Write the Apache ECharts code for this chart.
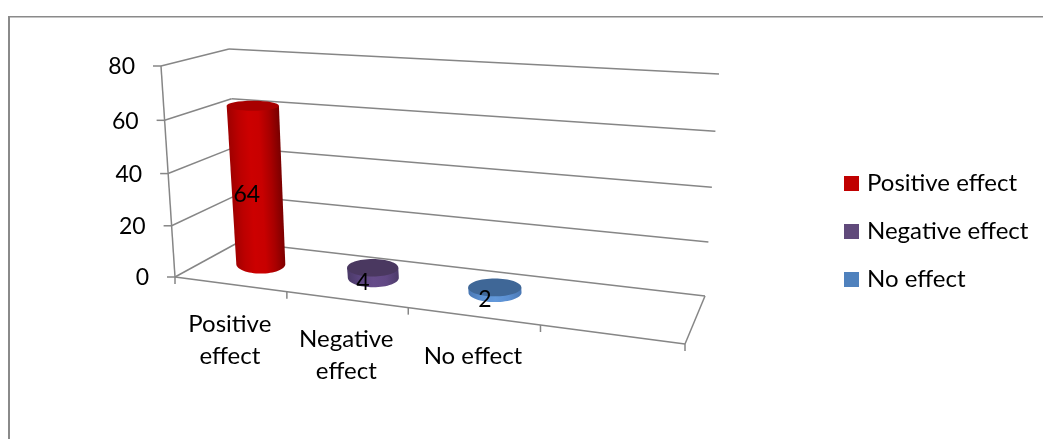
<!DOCTYPE html>
<html>
<head>
<meta charset="utf-8">
<style>
  html, body { margin: 0; padding: 0; background: #fff; }
  #chart { width: 1043px; height: 439px; }
</style>
</head>
<body>
<div id="chart"></div>
<script src="https://cdn.jsdelivr.net/npm/echarts@6/dist/echarts.min.js"></script>
<script>
// data
const categories = ["Positive effect", "Negative effect", "No effect", ""];
const xTickLabels = ["Positive\neffect", "Negative\neffect", "No effect", ""];
const yTicks = [0, 20, 40, 60, 80];
const seriesNames = ["Positive effect", "Negative effect", "No effect"];
const seriesValues = [64, 4, 2];
const seriesColors = ["#C00000", "#604A7B", "#4F81BD"];

const FONT = "Lato";
const LINE = "#868686";
const BAR_DEPTH = 0.53;
const AXIS_LEAN = 0.6; // cylinders lean less than the box edges
const AXIS_RISE = 0.975;

// corners of the 3d box as they land on screen
const floorQuad = [[175, 277], [685, 344], [705, 296], [239, 242]];
const roofQuad = [[161, 66], [697, 102], [719, 74], [229, 49]];

// unit square to quad, projective so the slots shrink towards the back
function quadMap(q) {
  const [[x0, y0], [x1, y1], [x2, y2], [x3, y3]] = q;
  const dx1 = x1 - x2, dx2 = x3 - x2, sx = x0 - x1 + x2 - x3;
  const dy1 = y1 - y2, dy2 = y3 - y2, sy = y0 - y1 + y2 - y3;
  const den = dx1 * dy2 - dx2 * dy1;
  const g = (sx * dy2 - dx2 * sy) / den;
  const h = (dx1 * sy - sx * dy1) / den;
  const a = x1 - x0 + g * x1, b = x3 - x0 + h * x3;
  const d = y1 - y0 + g * y1, e = y3 - y0 + h * y3;
  return (u, w) => {
    const k = g * u + h * w + 1;
    return [(a * u + b * w + x0) / k, (d * u + e * w + y0) / k];
  };
}
const floorAt = quadMap(floorQuad);
const roofAt = quadMap(roofQuad);

// u across the categories, v up the value axis, w front to back
function project(u, v, w) {
  const p = floorAt(u, w), q = roofAt(u, w);
  const t = v / (1 + 0.04 * (1 - v)); // levels open up slightly towards the top
  return [p[0] + (q[0] - p[0]) * t, p[1] + (q[1] - p[1]) * t];
}

// axis scale to unit coordinates
function toUnit(params, api, cat, val) {
  const c = params.coordSys;
  const pt = api.coord([cat, val]);
  return {
    u: (pt[0] - c.x) / c.width,
    v: (c.y + c.height - pt[1]) / c.height,
    band: api.size([1, 0])[0] / c.width,
  };
}

function seg(a, b) {
  return {
    type: "line",
    shape: { x1: a[0], y1: a[1], x2: b[0], y2: b[1] },
    style: { stroke: LINE, lineWidth: 1.5 },
  };
}

function label(text, x, y, align, verticalAlign, fontSize) {
  return {
    type: "text",
    z2: 20,
    style: { text, x, y, fontFamily: FONT, fontSize: fontSize || 24, lineHeight: 32, fill: "#000", align, verticalAlign },
  };
}

function renderValueLevel(params, api) {
  const val = api.value(1);
  const { v } = toUnit(params, api, 0, val);
  const front = project(0, v, 0), back = project(0, v, 1), right = project(1, v, 1);
  const kids = [
    seg(back, right),
    seg(front, back),
    seg([front[0] - 8, front[1]], front),
    label(String(val), front[0] - 26, front[1] + 1, "right", "middle", 23),
  ];
  if (val === yTicks[yTicks.length - 1]) kids.push(seg(front, project(0, 0, 0)));
  if (val === yTicks[0]) {
    kids.push(seg(front, project(1, 0, 0)), seg(project(1, 0, 0), right));
  }
  return { type: "group", children: kids };
}

function renderSlot(params, api) {
  const i = api.value(0);
  const { u, band } = toUnit(params, api, i, 0);
  const end = project(u + band / 2, 0, 0);
  const mid = project(u, 0, 0);
  const kids = [seg(end, [end[0], end[1] + 7])];
  if (i === 0) {
    const start = project(u - band / 2, 0, 0);
    kids.push(seg(start, [start[0], start[1] + 7]));
  }
  kids.push(label(xTickLabels[i], mid[0], mid[1] + 24, "center", "top"));
  return { type: "group", children: kids };
}

const bodyStops = [
  ["#a00000", "#bc0000", "#cc0000", "#c80000", "#a80000", "#7a0000"],
  ["#4b3a68", "#5c4580", "#664c8a", "#614884", "#4d3b6a"],
  ["#4a78b4", "#5b90d2", "#6298da", "#5a8ed0", "#4a78b4"],
];
const capColors = ["#a80000", "#4a3860", "#3f6797"];

function renderCylinder(params, api) {
  const idx = params.seriesIndex - 2;
  const { u, v } = toUnit(params, api, api.value(0), api.value(1));
  const base = project(u, 0, BAR_DEPTH);
  const raw = project(u, v, BAR_DEPTH);
  const nudge = 4 * Math.max(0, 0.7 - u); // left cylinders sit a little further left
  const top = [base[0] + (raw[0] - base[0]) * AXIS_LEAN - nudge, base[1] + (raw[1] - base[1]) * AXIS_RISE];
  base[0] -= nudge;
  const rxBase = 24 + 4 * u, rxTop = rxBase + 2 * v;
  const ryBase = 9.5, ryTop = 9 - 5 * v;
  const pts = [[top[0] - rxTop, top[1]], [top[0] + rxTop, top[1]]];
  for (let n = 0; n <= 32; n++) {
    const t = (Math.PI * n) / 32;
    pts.push([base[0] + rxBase * Math.cos(t), base[1] + ryBase * Math.sin(t)]);
  }
  // shading runs across the cylinder, square to its leaning axis
  const mx = (base[0] + top[0]) / 2, my = (base[1] + top[1]) / 2;
  const ax = top[0] - base[0], ay = top[1] - base[1];
  const len = Math.hypot(ax, ay) || 1;
  const nx = -ay / len, ny = ax / len;
  const rx = (rxBase + rxTop) / 2;
  const stops = bodyStops[idx].map((c, n, all) => ({ offset: n / (all.length - 1), color: c }));
  const fill = new echarts.graphic.LinearGradient(mx - nx * rx, my - ny * rx, mx + nx * rx, my + ny * rx, stops, true);
  return {
    type: "group",
    children: [
      { type: "polygon", shape: { points: pts }, style: { fill } },
      { type: "ellipse", shape: { cx: top[0], cy: top[1], rx: rxTop, ry: ryTop }, style: { fill: capColors[idx] } },
      label(String(api.value(1)), mx - 10, my + 10, "center", "middle", 23),
    ],
  };
}

const chart = echarts.init(document.getElementById("chart"), null, { renderer: "canvas" });

const option = {
  animation: false,
  backgroundColor: "#fff",
  grid: { left: 175, top: 66, width: 510, height: 211 },
  xAxis: { type: "category", data: categories, show: false },
  yAxis: { type: "value", min: yTicks[0], max: yTicks[yTicks.length - 1], interval: 20, show: false },
  legend: {
    data: seriesNames,
    orient: "vertical",
    left: 844,
    top: 171,
    padding: 0,
    icon: "rect",
    itemWidth: 15,
    itemHeight: 15,
    itemGap: 23,
    selectedMode: false,
    textStyle: { fontFamily: FONT, fontSize: 24, lineHeight: 25, color: "#000", padding: [0, 0, 0, 3] },
  },
  graphic: [
    { type: "line", shape: { x1: 8, y1: 16.75, x2: 1043, y2: 16.75 }, style: { stroke: "#8a8a8a", lineWidth: 1.6 } },
    { type: "line", shape: { x1: 9, y1: 16, x2: 9, y2: 439 }, style: { stroke: "#8a8a8a", lineWidth: 2 } },
  ],
  series: [
    { name: "levels", type: "custom", renderItem: renderValueLevel, clip: false, silent: true, z: 1, encode: { x: 0, y: 1 }, data: yTicks.map((t) => [0, t]) },
    { name: "slots", type: "custom", renderItem: renderSlot, clip: false, silent: true, z: 1, encode: { x: 0, y: 1 }, data: categories.map((c, i) => [i, 0]) },
    ...seriesNames.map((name, i) => ({
      name,
      type: "custom",
      renderItem: renderCylinder,
      clip: false,
      silent: true,
      z: 3,
      itemStyle: { color: seriesColors[i] },
      encode: { x: 0, y: 1 },
      data: [[i, seriesValues[i]]],
    })),
  ],
};

chart.setOption(option);
window.addEventListener("resize", () => chart.resize());
</script>
</body>
</html>
